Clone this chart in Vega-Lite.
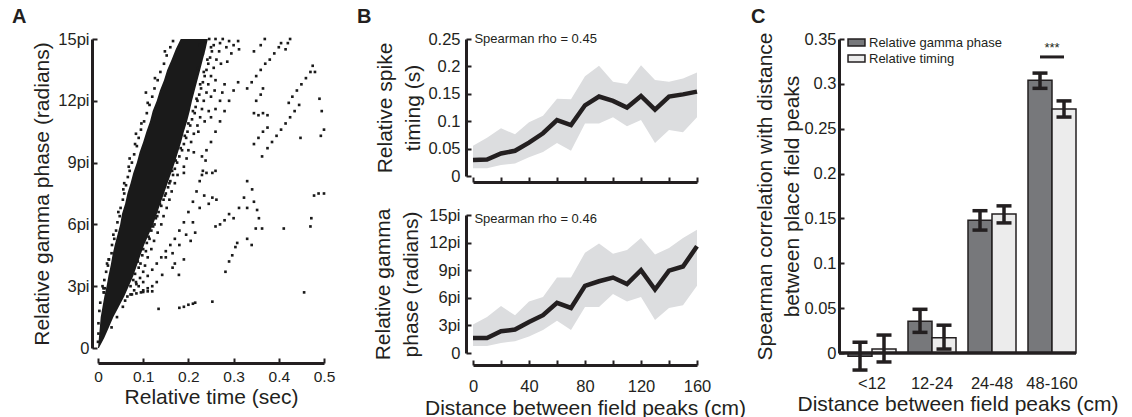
{
"$schema": "https://vega.github.io/schema/vega-lite/v6.json",
"padding": {"left": 12, "top": 7, "right": 5, "bottom": 2},
"background": "white",
"resolve": {"legend": {"color": "independent"}, "scale": {"color": "independent"}},
"config": {
  "font": "Liberation Sans",
  "view": {"stroke": null},
  "axis": {"grid": false, "domain": true, "domainColor": "#231f20", "domainWidth": 3, "domainOpacity": 1, "tickColor": "#231f20", "tickWidth": 2, "tickSize": -5, "tickCount": 20, "labelColor": "#231f20", "labelFontSize": 16.5, "labelFlush": false, "labelOverlap": false, "titleColor": "#231f20", "titleFontSize": 21, "titleFontWeight": "normal", "labelFont": "Liberation Sans", "titleFont": "Liberation Sans"},
  "title": {"fontSize": 20, "fontWeight": "bold", "anchor": "start", "frame": "group", "color": "#231f20", "baseline": "alphabetic"}
},
"datasets": {
  "core": [
    {"p":0,"t":0,"t2":0.002},{"p":0.5,"t":0.002,"t2":0.014},{"p":1,"t":0.004,"t2":0.024},{"p":1.5,"t":0.006,"t2":0.034},{"p":2,"t":0.010,"t2":0.046},{"p":2.5,"t":0.014,"t2":0.058},{"p":3,"t":0.019,"t2":0.068},{"p":3.5,"t":0.023,"t2":0.078},{"p":4,"t":0.028,"t2":0.086},{"p":4.5,"t":0.032,"t2":0.094},{"p":5,"t":0.037,"t2":0.102},{"p":5.5,"t":0.043,"t2":0.112},{"p":6,"t":0.049,"t2":0.122},{"p":6.5,"t":0.053,"t2":0.130},{"p":7,"t":0.060,"t2":0.138},{"p":7.5,"t":0.065,"t2":0.146},{"p":8,"t":0.072,"t2":0.154},{"p":8.5,"t":0.078,"t2":0.162},{"p":9,"t":0.086,"t2":0.170},{"p":9.5,"t":0.092,"t2":0.177},{"p":10,"t":0.100,"t2":0.184},{"p":10.5,"t":0.107,"t2":0.190},{"p":11,"t":0.115,"t2":0.197},{"p":11.5,"t":0.121,"t2":0.203},{"p":12,"t":0.130,"t2":0.208},{"p":12.5,"t":0.137,"t2":0.214},{"p":13,"t":0.146,"t2":0.220},{"p":13.5,"t":0.153,"t2":0.226},{"p":14,"t":0.163,"t2":0.232},{"p":14.5,"t":0.172,"t2":0.238},{"p":15,"t":0.183,"t2":0.243}
  ],
  "pts": [
    {"t":0.000,"p":0.3},{"t":0.001,"p":0.7},{"t":0.001,"p":1.2},{"t":0.003,"p":1.8},{"t":0.005,"p":2.2},{"t":0.013,"p":2.7},{"t":0.012,"p":2.9},{"t":0.014,"p":3.3},{"t":0.018,"p":3.7},{"t":0.02,"p":4.1},{"t":0.024,"p":4.3},{"t":0.03,"p":4.6},{"t":0.031,"p":5.0},{"t":0.036,"p":5.3},{"t":0.04,"p":5.7},{"t":0.043,"p":6.1},{"t":0.048,"p":6.4},{"t":0.05,"p":6.8},{"t":0.055,"p":7.2},{"t":0.058,"p":7.5},{"t":0.062,"p":7.9},{"t":0.066,"p":8.3},{"t":0.07,"p":8.6},{"t":0.075,"p":9.0},{"t":0.08,"p":9.4},{"t":0.086,"p":9.8},{"t":0.09,"p":10.2},{"t":0.095,"p":10.6},{"t":0.102,"p":11.0},{"t":0.108,"p":11.4},{"t":0.114,"p":11.8},{"t":0.12,"p":12.2},{"t":0.125,"p":12.6},{"t":0.132,"p":13.0},{"t":0.138,"p":13.4},{"t":0.146,"p":13.8},{"t":0.152,"p":14.2},{"t":0.16,"p":14.6},{"t":0.166,"p":14.9},
    {"t":0.01,"p":3.0},{"t":0.022,"p":4.0},{"t":0.034,"p":5.5},{"t":0.045,"p":6.6},{"t":0.056,"p":7.7},{"t":0.068,"p":8.8},{"t":0.082,"p":9.9},{"t":0.096,"p":10.9},{"t":0.11,"p":11.9},{"t":0.126,"p":13.1},{"t":0.148,"p":14.4},{"t":0.058,"p":8.0},{"t":0.07,"p":9.2},{"t":0.084,"p":10.4},{"t":0.106,"p":12.4},
    {"t":0.072,"p":3.0},{"t":0.078,"p":3.3},{"t":0.082,"p":3.6},{"t":0.09,"p":3.9},{"t":0.088,"p":4.2},{"t":0.098,"p":4.5},{"t":0.1,"p":4.8},{"t":0.108,"p":5.1},{"t":0.112,"p":5.4},{"t":0.118,"p":5.7},{"t":0.125,"p":6.0},{"t":0.128,"p":6.3},{"t":0.134,"p":6.6},{"t":0.14,"p":6.9},{"t":0.145,"p":7.2},{"t":0.15,"p":7.5},{"t":0.155,"p":7.8},{"t":0.16,"p":8.1},{"t":0.166,"p":8.4},{"t":0.17,"p":8.7},{"t":0.175,"p":9.0},{"t":0.18,"p":9.3},{"t":0.186,"p":9.6},{"t":0.19,"p":9.9},{"t":0.195,"p":10.2},{"t":0.198,"p":10.5},{"t":0.204,"p":10.8},{"t":0.208,"p":11.1},{"t":0.214,"p":11.4},{"t":0.216,"p":11.7},{"t":0.22,"p":12.0},{"t":0.224,"p":12.3},{"t":0.228,"p":12.6},{"t":0.232,"p":12.9},{"t":0.236,"p":13.2},{"t":0.24,"p":13.5},{"t":0.244,"p":13.8},{"t":0.248,"p":14.1},{"t":0.252,"p":14.4},{"t":0.256,"p":14.7},{"t":0.26,"p":15.0},
    {"t":0.084,"p":3.2},{"t":0.094,"p":4.1},{"t":0.106,"p":4.7},{"t":0.114,"p":5.3},{"t":0.122,"p":5.9},{"t":0.131,"p":6.4},{"t":0.137,"p":7.0},{"t":0.148,"p":7.4},{"t":0.158,"p":8.0},{"t":0.164,"p":8.6},{"t":0.172,"p":9.1},{"t":0.183,"p":9.7},{"t":0.192,"p":10.3},{"t":0.2,"p":10.9},{"t":0.21,"p":11.5},{"t":0.218,"p":12.1},{"t":0.226,"p":12.8},{"t":0.234,"p":13.4},{"t":0.242,"p":14.0},{"t":0.25,"p":14.6},{"t":0.238,"p":14.9},{"t":0.246,"p":15.0},{"t":0.225,"p":14.7},{"t":0.232,"p":14.3},{"t":0.22,"p":13.6},
    {"t":0.03,"p":1.0},{"t":0.042,"p":1.5},{"t":0.055,"p":2.0},{"t":0.06,"p":2.3},{"t":0.072,"p":2.6},{"t":0.08,"p":2.8},{"t":0.085,"p":3.1},{"t":0.093,"p":3.4},{"t":0.1,"p":3.7},{"t":0.104,"p":4.0},{"t":0.11,"p":4.4},{"t":0.118,"p":4.8},{"t":0.124,"p":5.2},{"t":0.132,"p":5.6},{"t":0.14,"p":6.0},{"t":0.145,"p":6.4},{"t":0.152,"p":6.8},{"t":0.158,"p":7.2},{"t":0.163,"p":7.6},{"t":0.17,"p":8.0},{"t":0.176,"p":8.4},{"t":0.19,"p":8.8},{"t":0.196,"p":9.2},{"t":0.2,"p":9.6},{"t":0.206,"p":10.0},{"t":0.212,"p":10.4},{"t":0.22,"p":10.8},{"t":0.226,"p":11.2},{"t":0.23,"p":11.6},{"t":0.234,"p":12.0},{"t":0.24,"p":12.4},{"t":0.244,"p":12.8},{"t":0.25,"p":13.2},{"t":0.256,"p":13.6},{"t":0.262,"p":14.0},{"t":0.268,"p":14.4},{"t":0.27,"p":14.8},{"t":0.276,"p":15.0},
    {"t":0.236,"p":11.0},{"t":0.25,"p":12.2},{"t":0.26,"p":13.0},{"t":0.272,"p":13.8},{"t":0.284,"p":14.6},{"t":0.29,"p":14.9},{"t":0.258,"p":12.5},{"t":0.245,"p":11.5},{"t":0.222,"p":10.5},{"t":0.212,"p":9.5},{"t":0.19,"p":8.5},{"t":0.286,"p":13.9},{"t":0.295,"p":14.3},{"t":0.3,"p":14.7},{"t":0.31,"p":14.9},{"t":0.312,"p":14.5},
    {"t":0.065,"p":2.5},{"t":0.075,"p":2.6},{"t":0.085,"p":2.65},{"t":0.095,"p":2.7},{"t":0.1,"p":2.72},{"t":0.11,"p":2.75},{"t":0.12,"p":2.75},
    {"t":0.09,"p":3.0},{"t":0.1,"p":3.2},{"t":0.11,"p":3.5},{"t":0.12,"p":3.8},{"t":0.13,"p":4.1},{"t":0.14,"p":4.4},{"t":0.15,"p":4.7},{"t":0.16,"p":5.0},{"t":0.17,"p":5.3},{"t":0.18,"p":5.7},{"t":0.19,"p":6.1},{"t":0.2,"p":6.6},{"t":0.21,"p":7.1},{"t":0.218,"p":7.6},{"t":0.225,"p":8.1},{"t":0.232,"p":8.6},{"t":0.238,"p":9.1},
    {"t":0.15,"p":4.4},{"t":0.165,"p":4.6},{"t":0.18,"p":5.0},{"t":0.195,"p":5.5},{"t":0.21,"p":6.1},{"t":0.225,"p":6.8},{"t":0.235,"p":7.4},
    {"t":0.1,"p":2.8},{"t":0.11,"p":2.9},{"t":0.12,"p":3.0},{"t":0.13,"p":3.2},{"t":0.142,"p":3.55},{"t":0.179,"p":3.55},
    {"t":0.23,"p":9.3},{"t":0.24,"p":9.6},{"t":0.25,"p":10.0},{"t":0.26,"p":10.5},{"t":0.27,"p":11.0},{"t":0.28,"p":11.5},{"t":0.29,"p":12.0},{"t":0.3,"p":12.5},{"t":0.31,"p":12.9},
    {"t":0.25,"p":11.2},{"t":0.26,"p":11.6},{"t":0.27,"p":12.0},{"t":0.275,"p":12.4},{"t":0.28,"p":12.8},
    {"t":0.345,"p":14.4},{"t":0.36,"p":14.7},{"t":0.369,"p":15.0},
    {"t":0.33,"p":12.6},{"t":0.34,"p":12.9},{"t":0.35,"p":13.2},{"t":0.36,"p":13.5},{"t":0.37,"p":13.8},{"t":0.38,"p":14.0},{"t":0.39,"p":14.3},{"t":0.4,"p":14.6},{"t":0.405,"p":14.8},
    {"t":0.415,"p":14.5},{"t":0.42,"p":14.8},{"t":0.425,"p":15.0},
    {"t":0.422,"p":11.9},{"t":0.43,"p":12.2},{"t":0.44,"p":12.5},{"t":0.45,"p":12.8},{"t":0.46,"p":13.1},{"t":0.47,"p":13.4},{"t":0.475,"p":13.7},{"t":0.48,"p":13.4},
    {"t":0.49,"p":12.1},{"t":0.495,"p":11.5},{"t":0.493,"p":10.3},{"t":0.5,"p":10.6},{"t":0.448,"p":10.2},
    {"t":0.363,"p":9.3},{"t":0.375,"p":9.7},{"t":0.385,"p":10.0},{"t":0.395,"p":10.3},{"t":0.405,"p":10.6},{"t":0.415,"p":10.9},{"t":0.425,"p":11.2},{"t":0.435,"p":11.5},{"t":0.445,"p":11.8},
    {"t":0.345,"p":9.9},{"t":0.355,"p":10.2},{"t":0.365,"p":10.5},{"t":0.375,"p":10.7},
    {"t":0.345,"p":11.4},{"t":0.355,"p":11.3},{"t":0.365,"p":11.4},{"t":0.375,"p":11.3},
    {"t":0.35,"p":12.0},{"t":0.36,"p":12.3},{"t":0.365,"p":12.6},
    {"t":0.33,"p":8.1},{"t":0.341,"p":7.7},{"t":0.323,"p":7.3},{"t":0.33,"p":6.8},{"t":0.345,"p":7.1},{"t":0.352,"p":6.7},{"t":0.356,"p":6.3},{"t":0.349,"p":5.8},{"t":0.363,"p":5.8},{"t":0.33,"p":5.3},{"t":0.34,"p":5.0},
    {"t":0.312,"p":6.8},{"t":0.3,"p":6.3},{"t":0.29,"p":6.5},
    {"t":0.282,"p":3.7},{"t":0.29,"p":4.2},{"t":0.297,"p":4.5},{"t":0.304,"p":4.9},{"t":0.308,"p":5.1},
    {"t":0.26,"p":5.9},{"t":0.27,"p":6.0},{"t":0.28,"p":6.2},
    {"t":0.411,"p":5.8},{"t":0.47,"p":5.9},{"t":0.472,"p":6.3},{"t":0.478,"p":7.4},{"t":0.488,"p":7.5},{"t":0.5,"p":7.5},{"t":0.456,"p":2.7},
    {"t":0.134,"p":1.9},{"t":0.18,"p":1.95},{"t":0.19,"p":2.0},{"t":0.2,"p":2.1},{"t":0.21,"p":2.15},{"t":0.215,"p":2.2},{"t":0.253,"p":2.25},
    {"t":0.024,"p":4.3},{"t":0.013,"p":2.7},{"t":0.015,"p":2.9},
    {"t":0.253,"p":8.5},{"t":0.24,"p":8.5},{"t":0.26,"p":8.6},
    {"t":0.23,"p":8.4},{"t":0.253,"p":7.3},{"t":0.262,"p":7.2},{"t":0.245,"p":7.0},{"t":0.205,"p":5.2},{"t":0.215,"p":5.6},{"t":0.19,"p":4.3},{"t":0.165,"p":3.9},{"t":0.17,"p":4.1}
  ],
  "b1": [
    {"d":0,"m":0.029,"lo":0.014,"hi":0.055},{"d":10,"m":0.030,"lo":0.014,"hi":0.070},{"d":20,"m":0.041,"lo":0.020,"hi":0.087},{"d":30,"m":0.046,"lo":0.023,"hi":0.076},{"d":40,"m":0.061,"lo":0.034,"hi":0.098},{"d":50,"m":0.078,"lo":0.044,"hi":0.110},{"d":60,"m":0.102,"lo":0.060,"hi":0.141},{"d":70,"m":0.093,"lo":0.046,"hi":0.140},{"d":80,"m":0.129,"lo":0.096,"hi":0.182},{"d":90,"m":0.145,"lo":0.096,"hi":0.201},{"d":100,"m":0.137,"lo":0.107,"hi":0.172},{"d":110,"m":0.125,"lo":0.091,"hi":0.168},{"d":120,"m":0.146,"lo":0.102,"hi":0.202},{"d":130,"m":0.121,"lo":0.060,"hi":0.175},{"d":140,"m":0.145,"lo":0.084,"hi":0.172},{"d":150,"m":0.149,"lo":0.080,"hi":0.178},{"d":160,"m":0.154,"lo":0.107,"hi":0.189}
  ],
  "b2": [
    {"d":0,"m":1.64,"lo":0.76,"hi":3.1},{"d":10,"m":1.64,"lo":0.76,"hi":3.9},{"d":20,"m":2.36,"lo":1.1,"hi":5.1},{"d":30,"m":2.55,"lo":1.27,"hi":4.1},{"d":40,"m":3.38,"lo":1.8,"hi":5.6},{"d":50,"m":4.11,"lo":2.5,"hi":6.1},{"d":60,"m":5.45,"lo":3.5,"hi":8.2},{"d":70,"m":4.9,"lo":2.5,"hi":8.2},{"d":80,"m":7.3,"lo":5.0,"hi":10.9},{"d":90,"m":7.8,"lo":5.0,"hi":11.9},{"d":100,"m":8.2,"lo":6.4,"hi":10.8},{"d":110,"m":7.5,"lo":5.6,"hi":11.2},{"d":120,"m":9.0,"lo":6.1,"hi":12.5},{"d":130,"m":6.9,"lo":3.6,"hi":10.7},{"d":140,"m":8.95,"lo":4.9,"hi":11.4},{"d":150,"m":9.4,"lo":5.2,"hi":12.5},{"d":160,"m":11.6,"lo":7.3,"hi":13.4}
  ],
  "c": [
    {"g":"<12","s":"Relative gamma phase","v":-0.0035,"lo":-0.019,"hi":0.012},
    {"g":"<12","s":"Relative timing","v":0.0045,"lo":-0.010,"hi":0.020},
    {"g":"12-24","s":"Relative gamma phase","v":0.0355,"lo":0.023,"hi":0.0487},
    {"g":"12-24","s":"Relative timing","v":0.017,"lo":0.0044,"hi":0.031},
    {"g":"24-48","s":"Relative gamma phase","v":0.148,"lo":0.137,"hi":0.1586},
    {"g":"24-48","s":"Relative timing","v":0.155,"lo":0.145,"hi":0.164},
    {"g":"48-160","s":"Relative gamma phase","v":0.304,"lo":0.295,"hi":0.312},
    {"g":"48-160","s":"Relative timing","v":0.272,"lo":0.263,"hi":0.281}
  ],
  "sig": [{"g":"48-160","y":0.33,"ty":0.336,"label":"***"}],
  "rho": [{"label1":"Spearman rho = 0.45","label2":"Spearman rho = 0.46"}]
},
"spacing": 5,
"hconcat": [
  {
    "spacing": 22,
    "hconcat": [
      {
        "width": 226, "height": 309,
        "title": {"text": "A", "dx": -86, "offset": 4},
        "encoding": {
          "y": {"field": "p", "type": "quantitative", "title": "Relative gamma phase (radians)", "scale": {"domain": [0, 15], "nice": false}, "axis": {"values": [0,3,6,9,12,15], "tickCount": 20, "labelExpr": "datum.value == 0 ? '0' : datum.value + 'pi'", "offset": 6, "zindex": 2, "labelOverlap": false, "labelPadding": 8, "titlePadding": 5}},
          "x": {"field": "t", "type": "quantitative", "title": "Relative time (sec)", "scale": {"domain": [0, 0.5], "nice": false}, "axis": {"values": [0,0.1,0.2,0.3,0.4,0.5], "tickCount": 20, "format": ".1~f", "offset": 15, "zindex": 2, "labelOverlap": false, "labelPadding": 11, "labelFontSize": 15.5, "titlePadding": 2}}
        },
        "layer": [
          {"data": {"name": "core"}, "mark": {"type": "area", "orient": "horizontal", "color": "#1a1a1a"},
           "encoding": {"x2": {"field": "t2"}}},
          {"data": {"name": "pts"}, "mark": {"type": "square", "size": 7, "color": "#1a1a1a", "opacity": 1}}
        ]
      },
      {
        "spacing": 22,
        "vconcat": [
          {
            "width": 224, "height": 137,
            "title": {"text": "B", "dx": -116, "offset": 4},
            "layer": [
              {"data": {"name": "b1"}, "mark": {"type": "area", "color": "#dcdddf"},
               "encoding": {
                 "x": {"field": "d", "type": "quantitative", "title": null, "scale": {"domain": [0, 160], "nice": false}, "axis": {"values": [0,20,40,60,80,100,120,140,160], "tickCount": 20, "labels": false, "offset": 6, "zindex": 2}},
                 "y": {"field": "lo", "type": "quantitative", "title": ["Relative spike", "timing (s)"], "scale": {"domain": [0, 0.25], "nice": false}, "axis": {"values": [0,0.05,0.1,0.15,0.2,0.25], "tickCount": 20, "format": ".2~f", "offset": 7, "zindex": 2, "labelOverlap": false, "labelPadding": 11, "titlePadding": 4, "titleLineHeight": 28}},
                 "y2": {"field": "hi"}
               }},
              {"data": {"name": "b1"}, "mark": {"type": "line", "color": "#231f20", "strokeWidth": 4.5},
               "encoding": {
                 "x": {"field": "d", "type": "quantitative", "title": null, "axis": {"values": [0,20,40,60,80,100,120,140,160], "tickCount": 20, "labels": false, "offset": 6, "zindex": 2}},
                 "y": {"field": "m", "type": "quantitative", "title": ["Relative spike", "timing (s)"], "axis": {"values": [0,0.05,0.1,0.15,0.2,0.25], "tickCount": 20, "format": ".2~f", "offset": 7, "zindex": 2, "labelOverlap": false, "labelPadding": 11, "titlePadding": 4, "titleLineHeight": 28}}
               }},
              {"data": {"name": "rho"}, "mark": {"type": "text", "align": "left", "baseline": "middle", "fontSize": 13, "color": "#231f20"},
               "encoding": {"x": {"datum": 1}, "y": {"datum": 0.25}, "text": {"field": "label1"}}}
            ]
          },
          {
            "width": 224, "height": 138,
            "layer": [
              {"data": {"name": "b2"}, "mark": {"type": "area", "color": "#dcdddf"},
               "encoding": {
                 "x": {"field": "d", "type": "quantitative", "title": "Distance between field peaks (cm)", "scale": {"domain": [0, 160], "nice": false}, "axis": {"values": [0,20,40,60,80,100,120,140,160], "tickCount": 20, "labelExpr": "datum.value % 40 == 0 ? datum.label : ''", "offset": 12, "zindex": 2, "labelOverlap": false, "labelPadding": 18, "titlePadding": 3}},
                 "y": {"field": "lo", "type": "quantitative", "title": ["Relative gamma", "phase (radians)"], "scale": {"domain": [0, 15], "nice": false}, "axis": {"values": [0,3,6,9,12,15], "tickCount": 20, "labelExpr": "datum.value == 0 ? '0' : datum.value + 'pi'", "offset": 7, "zindex": 2, "labelOverlap": false, "labelPadding": 11, "titlePadding": 7, "titleLineHeight": 28}},
                 "y2": {"field": "hi"}
               }},
              {"data": {"name": "b2"}, "mark": {"type": "line", "color": "#231f20", "strokeWidth": 4.5},
               "encoding": {
                 "x": {"field": "d", "type": "quantitative", "title": "Distance between field peaks (cm)", "axis": {"values": [0,20,40,60,80,100,120,140,160], "tickCount": 20, "labelExpr": "datum.value % 40 == 0 ? datum.label : ''", "offset": 12, "zindex": 2, "labelOverlap": false, "labelPadding": 18, "titlePadding": 3}},
                 "y": {"field": "m", "type": "quantitative", "title": ["Relative gamma", "phase (radians)"], "axis": {"values": [0,3,6,9,12,15], "tickCount": 20, "labelExpr": "datum.value == 0 ? '0' : datum.value + 'pi'", "offset": 7, "zindex": 2, "labelOverlap": false, "labelPadding": 11, "titlePadding": 7, "titleLineHeight": 28}}
               }},
              {"data": {"name": "rho"}, "mark": {"type": "text", "align": "left", "baseline": "middle", "fontSize": 13, "color": "#231f20"},
               "encoding": {"x": {"datum": 1}, "y": {"datum": 14.6}, "text": {"field": "label2"}}}
            ]
          }
        ]
      }
    ]
  },
  {
    "width": 237, "height": 314,
    "title": {"text": "C", "dx": -88, "offset": 4},
    "layer": [
      {"data": {"name": "c"}, "mark": {"type": "bar", "stroke": "#231f20", "strokeWidth": 1.5},
       "encoding": {
         "x": {"field": "g", "type": "nominal", "title": "Distance between field peaks (cm)", "sort": ["<12","12-24","24-48","48-160"], "scale": {"paddingInner": 0.2, "paddingOuter": 0.075, "align": 1}, "axis": {"labelAngle": 0, "ticks": false, "domain": false, "labelPadding": 22, "titlePadding": 2}},
         "xOffset": {"field": "s", "type": "nominal", "sort": ["Relative gamma phase", "Relative timing"]},
         "y": {"field": "v", "type": "quantitative", "title": ["Spearman correlation with distance", "between place field peaks"], "scale": {"domain": [0, 0.35], "nice": false}, "axis": {"values": [0,0.05,0.1,0.15,0.2,0.25,0.3,0.35], "tickCount": 20, "format": ".2~f", "labelOverlap": false, "labelPadding": 8, "titlePadding": 1, "titleLineHeight": 27}},
         "color": {"field": "s", "type": "nominal", "scale": {"domain": ["Relative gamma phase", "Relative timing"], "range": ["#77787b", "#ececec"]},
                   "legend": {"title": null, "orient": "top-left", "offset": -5, "padding": 0, "symbolType": "M-1.13,-0.47H1.13V0.47H-1.13Z", "symbolSize": 225, "symbolOffset": 14, "symbolStrokeColor": "#231f20", "symbolStrokeWidth": 1.5, "labelFontSize": 13, "labelColor": "#231f20", "rowPadding": -2, "labelOffset": 4}}
       }},
      {"data": {"values": [{}]}, "mark": {"type": "rule", "color": "#231f20", "strokeWidth": 3.5},
       "encoding": {"y": {"datum": 0}}},
      {"data": {"name": "c"}, "mark": {"type": "rule", "color": "#231f20", "strokeWidth": 3.5},
       "encoding": {
         "x": {"field": "g", "type": "nominal", "title": "Distance between field peaks (cm)", "sort": ["<12","12-24","24-48","48-160"]},
         "xOffset": {"field": "s", "type": "nominal", "sort": ["Relative gamma phase", "Relative timing"]},
         "y": {"field": "lo", "type": "quantitative", "title": ["Spearman correlation with distance", "between place field peaks"]},
         "y2": {"field": "hi"}
       }},
      {"data": {"name": "c"}, "mark": {"type": "tick", "color": "#231f20", "thickness": 3.5, "size": 15, "orient": "horizontal", "opacity": 1},
       "encoding": {
         "x": {"field": "g", "type": "nominal", "title": "Distance between field peaks (cm)", "sort": ["<12","12-24","24-48","48-160"]},
         "xOffset": {"field": "s", "type": "nominal", "sort": ["Relative gamma phase", "Relative timing"]},
         "y": {"field": "lo", "type": "quantitative", "title": ["Spearman correlation with distance", "between place field peaks"]}
       }},
      {"data": {"name": "c"}, "mark": {"type": "tick", "color": "#231f20", "thickness": 3.5, "size": 15, "orient": "horizontal", "opacity": 1},
       "encoding": {
         "x": {"field": "g", "type": "nominal", "title": "Distance between field peaks (cm)", "sort": ["<12","12-24","24-48","48-160"]},
         "xOffset": {"field": "s", "type": "nominal", "sort": ["Relative gamma phase", "Relative timing"]},
         "y": {"field": "hi", "type": "quantitative", "title": ["Spearman correlation with distance", "between place field peaks"]}
       }},
      {"data": {"name": "sig"}, "mark": {"type": "tick", "color": "#231f20", "thickness": 3, "size": 24, "orient": "horizontal", "opacity": 1},
       "encoding": {
         "x": {"field": "g", "type": "nominal", "title": "Distance between field peaks (cm)", "sort": ["<12","12-24","24-48","48-160"]},
         "y": {"field": "y", "type": "quantitative", "title": ["Spearman correlation with distance", "between place field peaks"]}
       }},
      {"data": {"name": "sig"}, "mark": {"type": "text", "fontSize": 13, "color": "#231f20", "baseline": "alphabetic", "align": "center"},
       "encoding": {
         "x": {"field": "g", "type": "nominal", "title": "Distance between field peaks (cm)", "sort": ["<12","12-24","24-48","48-160"]},
         "y": {"field": "ty", "type": "quantitative", "title": ["Spearman correlation with distance", "between place field peaks"]},
         "text": {"field": "label"}
       }}
    ]
  }
]
}
